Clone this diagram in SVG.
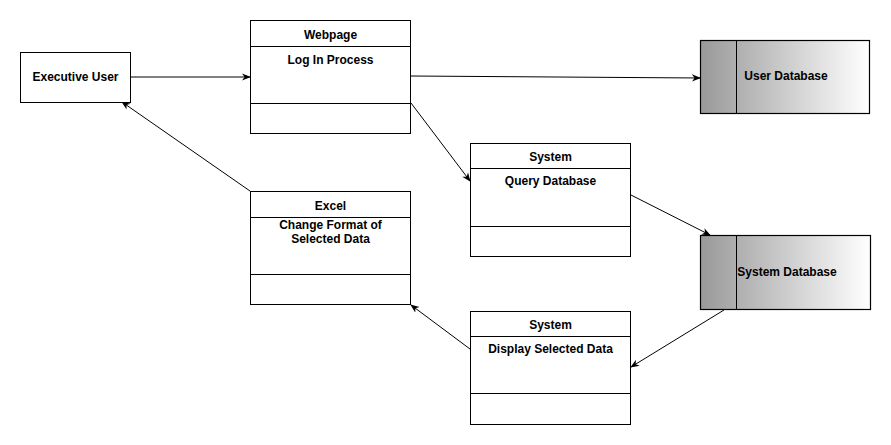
<svg xmlns="http://www.w3.org/2000/svg" width="891" height="445" viewBox="0 0 891 445">
<style>
.box{fill:#fff;stroke:#000;stroke-width:1}
.ln{stroke:#000;stroke-width:1;fill:none}
.t{font-family:"Liberation Sans",Arial,sans-serif;font-size:12px;font-weight:bold;fill:#000;text-anchor:middle}
.db{stroke:#000;stroke-width:1.2}
</style>
<defs>
<linearGradient id="g" x1="0" y1="0" x2="1" y2="0">
<stop offset="0" stop-color="#999"/>
<stop offset="1" stop-color="#fff"/>
</linearGradient>
<marker id="a" viewBox="0 0 10 10" refX="9" refY="5" markerWidth="9" markerHeight="9" markerUnits="userSpaceOnUse" orient="auto">
<path d="M0,1 L10,5 L0,9 L3,5 Z" fill="#000"/>
</marker>
</defs>
<g id="connectors">
<line class="ln" x1="131" y1="77" x2="250" y2="77" marker-end="url(#a)"/>
<line class="ln" x1="411" y1="76" x2="700" y2="78" marker-end="url(#a)"/>
<line class="ln" x1="411" y1="103" x2="470" y2="181" marker-end="url(#a)"/>
<line class="ln" x1="631" y1="195" x2="710" y2="235" marker-end="url(#a)"/>
<line class="ln" x1="724" y1="310" x2="631" y2="367" marker-end="url(#a)"/>
<line class="ln" x1="470" y1="349" x2="411" y2="305" marker-end="url(#a)"/>
<line class="ln" x1="250" y1="191" x2="122" y2="102" marker-end="url(#a)"/>
</g>
<g id="executive-user">
<rect class="box" x="20.5" y="52.5" width="110" height="50"/>
<text class="t" x="75.5" y="81">Executive User</text>
</g>
<g id="webpage">
<rect class="box" x="250.5" y="20.5" width="160" height="113"/>
<line class="ln" x1="250.5" y1="46.5" x2="410.5" y2="46.5"/>
<line class="ln" x1="250.5" y1="103.5" x2="410.5" y2="103.5"/>
<text class="t" x="330.5" y="39">Webpage</text>
<text class="t" x="330.5" y="64">Log In Process</text>
</g>
<g id="user-database">
<rect class="db" x="700.5" y="40.5" width="169" height="73" fill="url(#g)"/>
<line class="ln" x1="736.5" y1="40.5" x2="736.5" y2="113.5"/>
<text class="t" x="786" y="80">User Database</text>
</g>
<g id="system-query">
<rect class="box" x="470.5" y="143.5" width="160" height="113"/>
<line class="ln" x1="470.5" y1="168.5" x2="630.5" y2="168.5"/>
<line class="ln" x1="470.5" y1="226.5" x2="630.5" y2="226.5"/>
<text class="t" x="550.5" y="161">System</text>
<text class="t" x="550.5" y="185">Query Database</text>
</g>
<g id="system-database">
<rect class="db" x="700.5" y="235.5" width="170" height="74" fill="url(#g)"/>
<line class="ln" x1="736.5" y1="235.5" x2="736.5" y2="309.5"/>
<text class="t" x="787" y="276">System Database</text>
</g>
<g id="excel">
<rect class="box" x="250.5" y="191.5" width="160" height="113"/>
<line class="ln" x1="250.5" y1="217.5" x2="410.5" y2="217.5"/>
<line class="ln" x1="250.5" y1="274.5" x2="410.5" y2="274.5"/>
<text class="t" x="330.5" y="210">Excel</text>
<text class="t" x="330.5" y="229">Change Format of</text>
<text class="t" x="330.5" y="243">Selected Data</text>
</g>
<g id="system-display">
<rect class="box" x="470.5" y="311.5" width="160" height="113"/>
<line class="ln" x1="470.5" y1="336.5" x2="630.5" y2="336.5"/>
<line class="ln" x1="470.5" y1="393.5" x2="630.5" y2="393.5"/>
<text class="t" x="550.5" y="329">System</text>
<text class="t" x="550.5" y="353">Display Selected Data</text>
</g>
</svg>
